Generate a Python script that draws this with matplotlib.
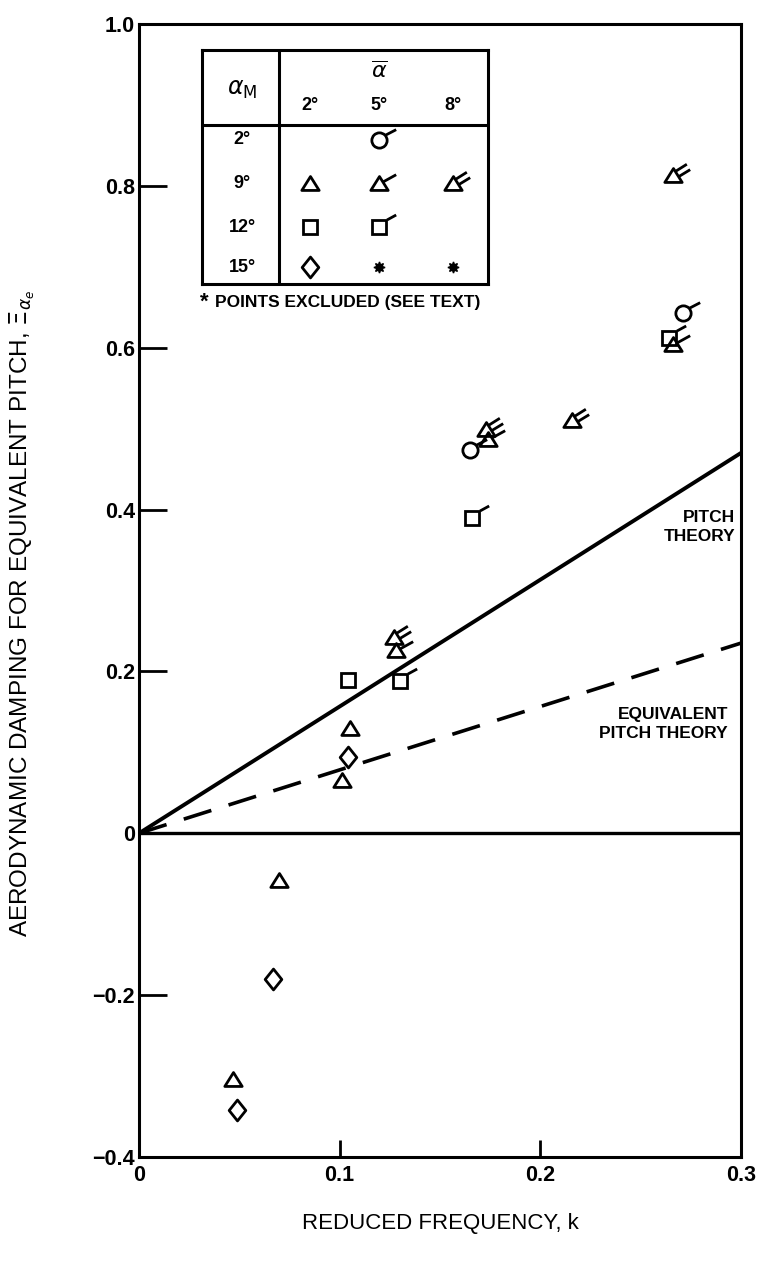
import numpy as np
import matplotlib.pyplot as plt
from matplotlib.path import Path

plt.rcParams['font.family'] = ['Liberation Sans', 'DejaVu Sans']
plt.rcParams['mathtext.fontset'] = 'dejavusans'

# values (k, damping)
# alpha_M = 2 deg, alpha_bar = 5 deg : circle + flag
k_circ_f = [0.165, 0.271]
z_circ_f = [0.473, 0.643]
# alpha_M = 9 deg
k_tri = [0.047, 0.070, 0.101, 0.105]          # alpha_bar 2 deg
z_tri = [-0.304, -0.058, 0.066, 0.130]
k_tri_f = [0.128, 0.174, 0.266]               # alpha_bar 5 deg
z_tri_f = [0.226, 0.487, 0.604]
k_tri_ff = [0.127, 0.173, 0.216, 0.266]       # alpha_bar 8 deg
z_tri_ff = [0.242, 0.500, 0.511, 0.814]
# alpha_M = 12 deg
k_sq = [0.104]
z_sq = [0.190]
k_sq_f = [0.130, 0.166, 0.264]
z_sq_f = [0.188, 0.390, 0.612]
# alpha_M = 15 deg
k_dia = [0.049, 0.067, 0.104]
z_dia = [-0.342, -0.180, 0.094]

# theory lines
k_theory = [0.0, 0.3]
z_pitch = [0.0, 0.470]
z_equiv = [0.0, 0.235]

# legend table
row_labels = ['2°', '9°', '12°', '15°']
col_labels = ['2°', '5°', '8°']

# marker shapes
M, L, C = Path.MOVETO, Path.LINETO, Path.CLOSEPOLY
tri = Path([(0, 0.8), (-1, -0.8), (1, -0.8), (0, 0.8)], [M, L, L, C])
dia = Path([(0, 1), (0.8, 0), (0, -1), (-0.8, 0), (0, 1)], [M, L, L, L, C])
flag_circ = Path([(0.65, 0.6), (2.0, 1.3)], [M, L])
flag_sq = Path([(0.9, 0.9), (2.0, 1.5)], [M, L])
flag_tri = Path([(0.45, 0.2), (1.9, 1.0)], [M, L])
flag_tri2 = Path([(0.25, 0.5), (1.6, 1.35), (0.6, -0.15), (2.0, 0.7)], [M, L, M, L])

U = 12      # size unit for flags
MEW = 2.0


def pts(a, k, z, base, bms, flag=None, fill='none'):
    a.plot(k, z, ls='none', marker=base, ms=bms, mfc=fill, mec='k', mew=MEW, zorder=4)
    if flag is not None:
        a.plot(k, z, ls='none', marker=flag, ms=2 * U, mec='k', mew=MEW, zorder=4)


fig = plt.figure(figsize=(7.59, 12.74), dpi=100)
ax = fig.add_axes([139 / 759, 117 / 1274, 602 / 759, 1133 / 1274])

ax.plot(k_theory, z_pitch, 'k-', lw=2.8)
ax.plot(k_theory, z_equiv, 'k', ls=(0, (8, 5)), lw=2.6)
ax.axhline(0, color='k', lw=2.4)

pts(ax, k_circ_f, z_circ_f, 'o', 11, flag_circ)
pts(ax, k_tri, z_tri, tri, 12.5)
pts(ax, k_tri_f, z_tri_f, tri, 12.5, flag_tri)
pts(ax, k_tri_ff, z_tri_ff, tri, 12.5, flag_tri2)
pts(ax, k_sq, z_sq, 's', 10.5)
pts(ax, k_sq_f, z_sq_f, 's', 10.5, flag_sq)
pts(ax, k_dia, z_dia, dia, 15)

ax.text(0.297, 0.378, 'PITCH\nTHEORY', ha='right', va='center', fontsize=12.5,
        fontweight='bold', linespacing=1.35)
ax.text(0.2935, 0.135, 'EQUIVALENT\nPITCH THEORY', ha='right', va='center', fontsize=12.5,
        fontweight='bold', linespacing=1.35)

ax.set_xlim(0, 0.3)
ax.set_ylim(-0.4, 1.0)
ax.set_xticks([0, 0.1, 0.2, 0.3])
ax.set_xticklabels(['0', '0.1', '0.2', '0.3'])
ax.set_yticks([-0.4, -0.2, 0, 0.2, 0.4, 0.6, 0.8, 1.0])
ax.set_yticklabels(['\u22120.4', '\u22120.2', '0', '0.2', '0.4', '0.6', '0.8', '1.0'])
ax.tick_params(axis='y', direction='in', length=20, width=2.0, pad=3, labelsize=15.5)
ax.tick_params(axis='x', direction='in', length=12, width=2.0, pad=6, labelsize=15.5)
for lab in ax.get_xticklabels() + ax.get_yticklabels():
    lab.set_fontweight('bold')
for s in ax.spines.values():
    s.set_linewidth(2.2)

ax.set_xlabel('REDUCED FREQUENCY, k', fontsize=16)
ax.xaxis.set_label_coords(0.5, -0.049)
ax.set_ylabel('AERODYNAMIC DAMPING FOR EQUIVALENT PITCH, $\\Xi_{\\alpha_e}$', fontsize=17.5)
ax.yaxis.set_label_coords(-0.17, 0.48)

# legend table (inset axes, pixel-like coordinates)
tab = fig.add_axes([202 / 759, 990 / 1274, 286 / 759, 234 / 1274])
tab.set_xlim(0, 286)
tab.set_ylim(234, 0)
tab.set_xticks([])
tab.set_yticks([])
for s in tab.spines.values():
    s.set_linewidth(2.2)
tab.axvline(77, color='k', lw=2.2)
tab.axhline(75, color='k', lw=2.2)

col_x = [108, 177, 251]
row_y = [90, 133, 177, 217]
tab.text(40, 40, '$\\alpha_\\mathrm{M}$', ha='center', va='center', fontsize=17)
tab.text(177, 22, '$\\overline{\\alpha}$', ha='center', va='center', fontsize=16)
for x, lab in zip(col_x, col_labels):
    tab.text(x, 56, lab, ha='center', va='center', fontsize=13, fontweight='bold')
for y, lab in zip(row_y, row_labels):
    tab.text(40, y, lab, ha='center', va='center', fontsize=13, fontweight='bold')

pts(tab, [col_x[1]], [row_y[0]], 'o', 11, flag_circ)
pts(tab, [col_x[0]], [row_y[1]], tri, 12.5)
pts(tab, [col_x[1]], [row_y[1]], tri, 12.5, flag_tri)
pts(tab, [col_x[2]], [row_y[1]], tri, 12.5, flag_tri2)
pts(tab, [col_x[0]], [row_y[2]], 's', 10.5)
pts(tab, [col_x[1]], [row_y[2]], 's', 10.5, flag_sq)
pts(tab, [col_x[0]], [row_y[3]], dia, 15)
tab.plot(col_x[1:], [row_y[3]] * 2, ls='none', marker=(8, 1, 0), ms=8, color='k')

tab.text(-2, 252, '*', ha='left', va='center', fontsize=16, fontweight='bold', clip_on=False)
tab.text(13, 253, 'POINTS EXCLUDED (SEE TEXT)', ha='left', va='center', fontsize=12.5,
         fontweight='bold', clip_on=False)

fig.savefig('out.png', dpi=100)
